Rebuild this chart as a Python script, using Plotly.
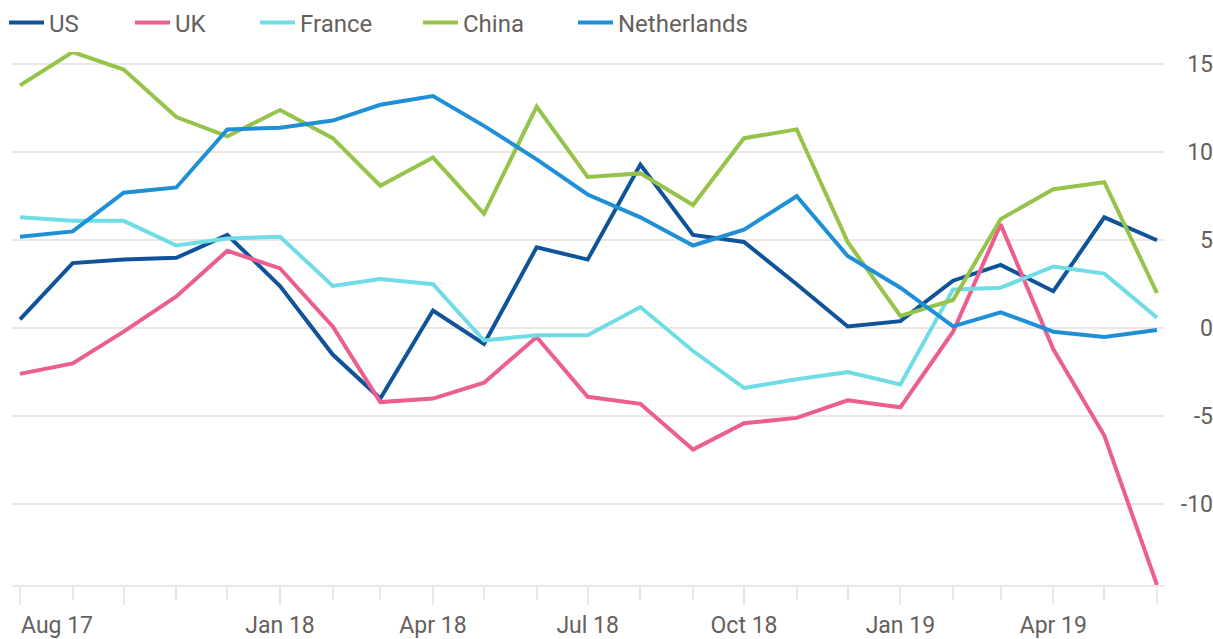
import plotly.graph_objects as go

months = ["2017-08-01", "2017-09-01", "2017-10-01", "2017-11-01", "2017-12-01",
          "2018-01-01", "2018-02-01", "2018-03-01", "2018-04-01", "2018-05-01",
          "2018-06-01", "2018-07-01", "2018-08-01", "2018-09-01", "2018-10-01",
          "2018-11-01", "2018-12-01", "2019-01-01", "2019-02-01", "2019-03-01",
          "2019-04-01", "2019-05-01", "2019-06-01"]

us = [0.5, 3.7, 3.9, 4.0, 5.3, 2.4, -1.5, -4.0, 1.0, -0.9, 4.6, 3.9, 9.3,
      5.3, 4.9, 2.5, 0.1, 0.4, 2.7, 3.6, 2.1, 6.3, 5.0]
uk = [-2.6, -2.0, -0.2, 1.8, 4.4, 3.4, 0.1, -4.2, -4.0, -3.1, -0.5, -3.9, -4.3,
      -6.9, -5.4, -5.1, -4.1, -4.5, -0.2, 5.9, -1.2, -6.1, -14.6]
france = [6.3, 6.1, 6.1, 4.7, 5.1, 5.2, 2.4, 2.8, 2.5, -0.7, -0.4, -0.4, 1.2,
          -1.3, -3.4, -2.9, -2.5, -3.2, 2.2, 2.3, 3.5, 3.1, 0.6]
china = [13.8, 15.7, 14.7, 12.0, 10.9, 12.4, 10.8, 8.1, 9.7, 6.5, 12.6, 8.6,
         8.8, 7.0, 10.8, 11.3, 4.9, 0.7, 1.6, 6.2, 7.9, 8.3, 2.0]
netherlands = [5.2, 5.5, 7.7, 8.0, 11.3, 11.4, 11.8, 12.7, 13.2, 11.5, 9.6,
               7.6, 6.3, 4.7, 5.6, 7.5, 4.1, 2.3, 0.1, 0.9, -0.2, -0.5, -0.1]

series_names = ["US", "UK", "France", "China", "Netherlands"]
series_values = [us, uk, france, china, netherlands]
series_colors = ["#0f5499", "#eb5e8d", "#70dce6", "#96c34a", "#1f8fd6"]

x_tickvals = ["2017-08-01", "2017-10-01", "2018-01-01", "2018-04-01", "2018-07-01",
              "2018-10-01", "2019-01-01", "2019-04-01", "2019-06-01"]
x_ticktext = ["", "", "Jan 18", "Apr 18", "Jul 18",
              "Oct 18", "Jan 19", "Apr 19", ""]
first_label = "Aug 17"   # first x label, left-aligned at its tick
y_tickvals = [-10, -5, 0, 5, 10, 15]
y_ticktext = ["-10", "-5", "0", "5", "10", "15"]

W, H = 1213, 639
FONT = "Roboto"
TEXT = "#66605c"
GRID = "#ece7e2"

# legend text start positions (px)
legend_text_px = [50, 176, 301, 464, 619]

fig = go.Figure()
for i, (name, vals, col) in enumerate(zip(series_names, series_values, series_colors)):
    lg = "legend" if i == 0 else f"legend{i+1}"
    fig.add_trace(go.Scatter(x=months, y=vals, mode="lines", name=name,
                             line=dict(color=col, width=4),
                             legend=lg, hoverinfo="skip"))

legend_common = dict(orientation="h", xref="container", yref="container",
                     xanchor="left", yanchor="middle", bgcolor="rgba(0,0,0,0)",
                     font=dict(family=FONT, size=24, color=TEXT), itemwidth=35,
                     borderwidth=0)
layout_legends = {}
for i, px in enumerate(legend_text_px):
    key = "legend" if i == 0 else f"legend{i+1}"
    layout_legends[key] = dict(legend_common, x=(px - 46) / W, y=1 - 23 / H)

fig.add_annotation(x=months[0], xref="x", y=0, yref="paper",
                   text=first_label, showarrow=False,
                   xanchor="left", yanchor="middle", xshift=-1, yshift=-40,
                   font=dict(family=FONT, size=23, color=TEXT))

fig.update_layout(
    width=W, height=H,
    paper_bgcolor="white", plot_bgcolor="white",
    margin=dict(l=12, r=0, t=52, b=54, autoexpand=False),
    font=dict(family=FONT, size=23, color=TEXT),
    showlegend=True,
    xaxis=dict(
        type="date",
        domain=[0, (1165 - 12) / (W - 12)],
        range=["2017-07-27 07:00", "2019-06-05 17:00"],
        tickmode="array", tickvals=x_tickvals, ticktext=x_ticktext,
        ticks="outside", ticklen=18, tickwidth=2, tickcolor=GRID,
        ticklabeloverflow="allow",
        showline=True, linecolor=GRID, linewidth=2,
        showgrid=False, zeroline=False,
        tickfont=dict(family=FONT, size=23, color=TEXT),
        minor=dict(dtick="M1", tick0="2017-08-01", ticks="outside", ticklen=13,
                   tickwidth=2, tickcolor=GRID, showgrid=False),
    ),
    yaxis=dict(
        anchor="free", position=1.0, side="left",
        range=[-14.6, 15.7],
        tickmode="array", tickvals=y_tickvals, ticktext=y_ticktext,
        showgrid=True, gridcolor=GRID, gridwidth=2,
        zeroline=False, showline=False, ticks="",
        tickfont=dict(family=FONT, size=23, color=TEXT),
    ),
    **layout_legends,
)

fig.write_html("out.html", config={"displayModeBar": False},
               post_script="document.body.style.margin='0';document.body.style.overflow='hidden';")
